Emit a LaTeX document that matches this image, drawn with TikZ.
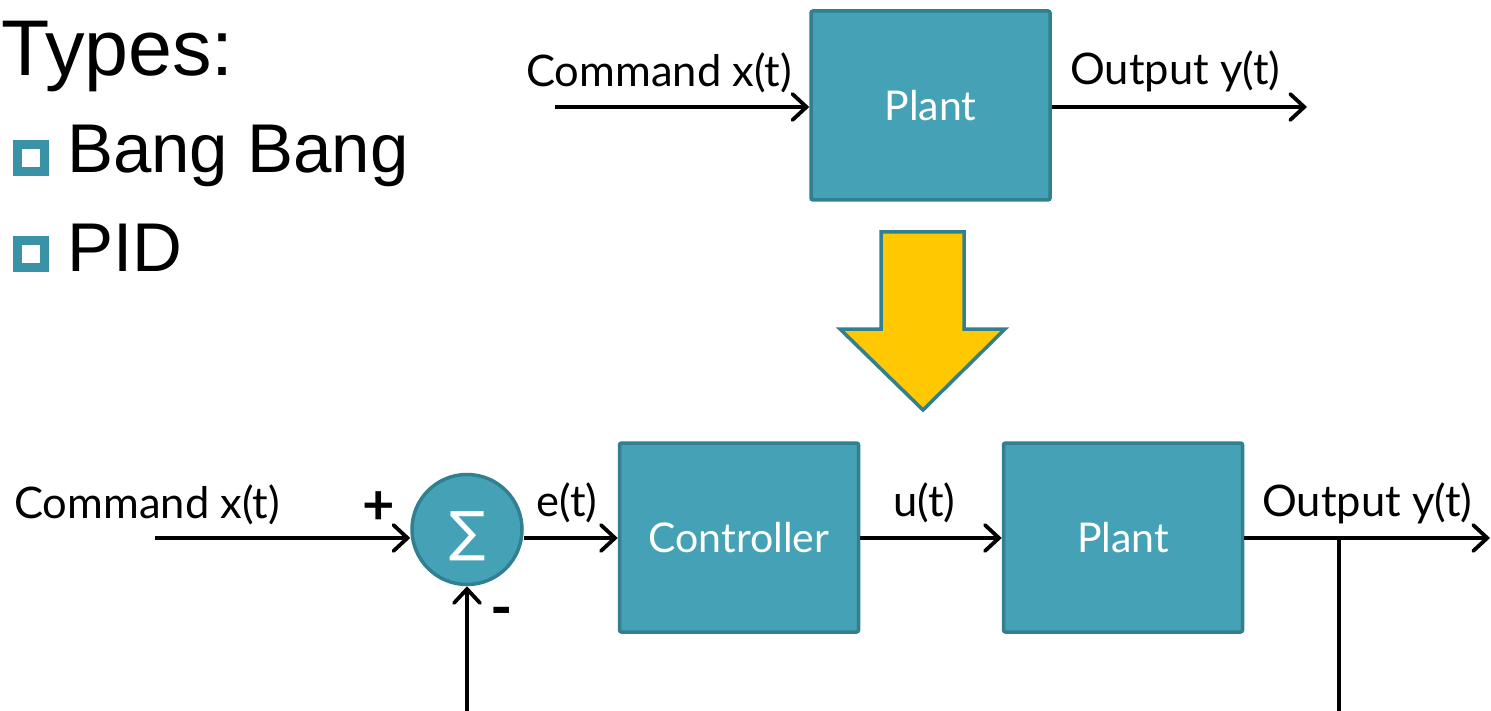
\documentclass[tikz,border=0pt]{standalone}
\usepackage{fontspec}
\usetikzlibrary{arrows.meta,calc}
\setmainfont{Liberation Sans}
\newfontfamily\lab{Lato}
\newfontfamily\symf{DejaVu Sans}
\definecolor{boxfill}{HTML}{45A2B6}
\definecolor{boxline}{HTML}{31808F}
\definecolor{bullet}{HTML}{3A92A6}
\definecolor{arrowyellow}{HTML}{FFC800}
\tikzset{
  blk/.style={draw=boxline, fill=boxfill, line width=3.5pt, rounded corners=2pt,
    minimum width=239pt, minimum height=189pt, inner sep=0pt, text=white,
    font=\lab\fontsize{41}{44}\selectfont},
  sumnode/.style={circle, draw=boxline, fill=boxfill, line width=3.5pt,
    minimum size=110pt, inner sep=0pt, text=white},
  wire/.style={line width=3.8pt, draw=black},
  arr/.style={wire, -{Straight Barb[length=14pt, width=26pt, line width=3.8pt, line cap=round]}},
  lbl/.style={anchor=base west, inner sep=0pt, font=\lab\fontsize{43.5}{46}\selectfont},
  bulletbox/.style={draw=bullet, fill=white, line width=9pt, minimum size=27pt, inner sep=0pt},
  big/.style={anchor=base west, inner sep=0pt}
}
\begin{document}
\begin{tikzpicture}[x=1pt,y=-1pt]
\useasboundingbox (0,0) rectangle (1491,711);
% left text
\node[big, font=\fontsize{79}{85}\selectfont] (types) at (1,76) {Types:};
\node[bulletbox] (b1) at (31,158.5) {};
\node[bulletbox] (b2) at (31,254.5) {};
\node[big, font=\fontsize{69}{74}\selectfont] (bang) at (67,173) {Bang Bang};
\node[big, font=\fontsize{69}{74}\selectfont] (pid) at (67,272) {PID};
% top diagram
\node[blk] (plant1) at (930.5,105.5) {\raisebox{-5pt}{Plant}};
\coordinate (cmd1) at (555,107);
\coordinate (out1) at (1307,107);
\draw[arr] (cmd1) -- (cmd1 -| plant1.west);
\draw[arr] (plant1.east |- out1) -- (out1);
\node[lbl] (lcmd1) at (526,87) {Command x(t)};
\node[lbl] (lout1) at (1070,85) {Output y(t)};
% yellow arrow
\draw[draw=boxline, fill=arrowyellow, line width=3.5pt, line join=miter]
  (881,232) -- (964,232) -- (964,329) -- (1005,329) -- (923,410) -- (840,329) -- (881,329) -- cycle;
% bottom diagram
\node[sumnode] (sum) at (467,529.5) {};
\node[text=white, inner sep=0pt, font=\symf\fontsize{54}{58}\selectfont] (sig) at (468,536.5) {∑};
\node[blk] (ctrl) at (739,537.5) {\raisebox{-5pt}{Controller}};
\node[blk] (plant2) at (1123,537.5) {\raisebox{-5pt}{Plant}};
\coordinate (m) at (0,538);
\coordinate (cmd2) at (155,538);
\coordinate (out2) at (1490,538);
\coordinate (br) at (1339,538);
\coordinate (fb) at (467,713);
\draw[arr] (cmd2) -- (cmd2 -| sum.west);
\draw[arr] (sum.east |- m) -- (ctrl.west |- m);
\draw[arr] (ctrl.east |- m) -- (plant2.west |- m);
\draw[arr] (plant2.east |- m) -- (out2);
\draw[wire] (br) |- (fb);
\draw[arr] (fb) -- (sum.south);
\node[lbl] (lcmd2) at (14,518) {Command x(t)};
\node[lbl] (le) at (536,516) {e(t)};
\node[lbl] (lu) at (893,516) {u(t)};
\node[lbl] (lout2) at (1262,516) {Output y(t)};
\node[inner sep=0pt, font=\lab\bfseries\fontsize{56}{60}\selectfont] (plus) at (379,508) {+};
\node[inner sep=0pt, font=\lab\bfseries\fontsize{60}{60}\selectfont] (minus) at (501.5,617.5) {-};
\end{tikzpicture}
\end{document}
